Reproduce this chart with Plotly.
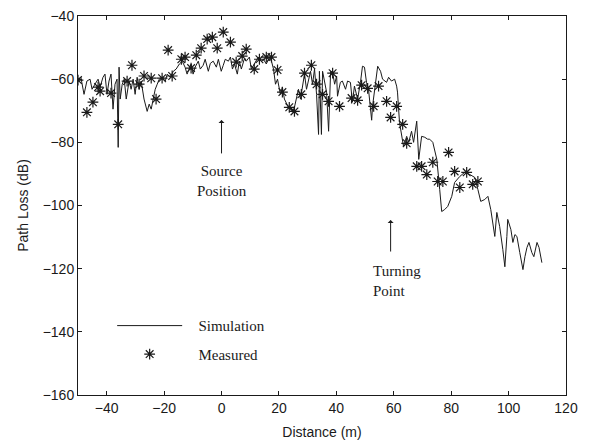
import plotly.graph_objects as go

# Simulation (distance m, path loss dB)
sim_dist = [-50, -49.0, -47.9, -46.9, -45.8, -45.1, -44.1, -43.0, -42.3, -41.3, -40.6, -39.9, -39.2, -38.5,
            -37.8, -37.1, -36.4, -36.0, -35.7, -35.3, -34.6, -33.9, -33.2, -32.2, -31.5, -30.8, -30.1, -29.4,
            -28.7, -28.0, -27.0, -25.9, -25.2, -24.5, -23.8, -23.1, -22.4, -21.7, -20.7, -19.6, -18.9, -17.9,
            -16.8, -15.8, -14.7, -13.7, -12.7, -12.0, -11.3, -10.6, -9.9, -9.2, -8.1, -7.4, -6.4, -5.7, -4.6,
            -3.9, -2.9, -1.8, -1.1, -0.1, 0.6, 1.3, 2.4, 3.1, 3.8, 4.5, 5.5, 6.2, 6.9, 7.9, 8.6, 9.7, 10.4,
            11.1, 12.1, 12.8, 13.9, 14.6, 15.6, 16.7, 17.4, 18.1, 18.8, 19.5, 20.5, 21.2, 21.9, 22.6, 23.3,
            24.0, 24.7, 25.4, 26.1, 26.8, 27.5, 28.2, 28.9, 29.6, 30.3, 31.0, 31.7, 32.4, 33.1, 33.8, 34.1,
            34.8, 35.2, 35.9, 36.6, 37.3, 38.0, 38.7, 39.4, 40.1, 40.4, 41.4, 42.1, 43.2, 43.9, 44.9, 45.6,
            46.3, 47.4, 48.4, 49.1, 49.8, 50.5, 51.2, 52.3, 52.6, 53.7, 54.4, 55.4, 56.1, 57.5, 58.2, 59.2,
            60.3, 61.0, 61.3, 62.0, 62.7, 63.4, 64.5, 65.2, 66.2, 66.9, 68.0, 68.7, 69.7, 70.8, 71.8, 72.5,
            73.6, 75.0, 76.0, 76.7, 77.7, 78.8, 80.2, 81.2, 83.0, 84.7, 86.5, 88.2, 89.3, 90.3, 91.7, 92.8,
            93.8, 94.5, 95.2, 95.9, 96.9, 98.0, 98.7, 99.4, 99.7, 100.8, 101.5, 102.2, 102.9, 103.9, 105.0,
            105.7, 106.4, 107.1, 108.1, 108.8, 109.9, 110.6, 111.6]
sim_loss = [-60.0, -59.4, -64.8, -60.6, -60.0, -63.2, -61.6, -60.0, -62.5, -59.4, -58.4, -64.8, -60.6, -58.4,
            -69.5, -61.6, -60.0, -81.6, -56.2, -66.3, -61.6, -60.0, -66.3, -60.6, -63.2, -60.0, -64.8, -59.4,
            -63.2, -60.6, -66.3, -70.2, -67.9, -69.5, -66.3, -63.2, -61.6, -60.0, -59.4, -60.6, -58.4, -59.4,
            -57.5, -56.8, -55.2, -54.3, -56.2, -58.4, -56.8, -55.2, -58.4, -56.2, -54.3, -56.8, -55.6, -53.7, -57.5,
            -55.0, -54.3, -56.2, -53.7, -57.5, -55.6, -53.7, -54.3, -53.0, -56.8, -55.2, -58.4, -54.3, -56.8, -53.7, -54.3, -53.0, -56.8,
            -55.6, -53.7, -53.0, -54.3, -53.7, -55.2, -53.0, -54.3, -56.8, -61.6, -60.0, -64.8, -62.5, -66.3, -67.9, -68.9,
            -69.5, -70.5, -68.9, -66.3, -63.2, -66.3, -62.5, -58.4, -63.2, -60.0, -57.5, -61.6, -56.8, -64.8, -77.5, -57.5,
            -77.5, -57.5, -60.6, -64.1, -76.5, -57.5, -57.8, -61.6, -59.0, -65.4, -61.0, -60.6, -63.2, -60.6, -61.0, -67.3,
            -62.2, -66.3, -61.0, -55.9, -56.2, -61.0, -63.2, -73.0, -68.6, -60.3, -55.9, -57.5, -60.0, -61.0, -59.4, -60.6,
            -60.0, -62.2, -64.1, -73.7, -78.1, -81.3, -78.1, -80.0, -76.5, -80.0, -73.3, -85.4, -78.1, -78.4, -79.0, -79.0,
            -80.0, -85.4, -94.9, -101.9, -101.3, -100.3, -97.1, -92.7, -90.8, -89.5, -90.2, -91.1, -94.9, -98.7, -98.1, -97.1,
            -101.3, -105.4, -109.8, -102.2, -106.7, -114.0, -119.4, -109.8, -104.4, -107.6, -111.7, -109.2, -109.8, -114.9, -120.3,
            -116.2, -113.3, -111.7, -114.9, -116.2, -111.7, -113.3, -118.1]

# Measured (distance m, path loss dB)
meas_dist = [-50.0, -46.9, -44.8, -43.0, -42.3, -38.5, -36.0, -31.2, -32.9, -28.7, -27.0, -24.5, -22.8, -20.7,
             -18.6, -17.2, -14.0, -12.7, -10.6, -8.8, -7.1, -5.0, -3.2, -1.5, 0.6, 3.1, 5.1, 7.2, 8.6, 11.4,
             13.2, 15.6, 17.4, 19.5, 21.2, 23.6, 25.4, 27.8, 28.9, 31.3, 33.1, 35.2, 37.3, 38.7, 41.1, 45.3,
             47.4, 48.8, 50.9, 53.0, 54.7, 57.5, 58.9, 61.0, 63.1, 64.5, 68.0, 69.7, 71.5, 73.6, 75.3, 77.1,
             79.1, 81.2, 83.0, 85.4, 87.5, 89.3]
meas_loss = [-60.3, -70.5, -67.3, -62.5, -63.8, -64.4, -74.3, -55.6, -60.6, -61.6, -59.0, -59.7, -66.3, -59.7,
             -50.8, -59.0, -53.7, -53.0, -56.5, -52.4, -50.2, -47.3, -46.7, -50.2, -45.1, -48.3, -54.6, -52.7,
             -50.5, -56.8, -53.7, -53.0, -53.0, -57.1, -64.1, -68.9, -70.2, -64.8, -58.1, -55.6, -61.6, -64.8,
             -67.0, -58.1, -68.6, -66.0, -66.7, -61.9, -62.9, -68.6, -62.2, -67.0, -72.1, -68.6, -74.3, -80.3,
             -87.6, -87.6, -90.2, -86.3, -92.4, -92.4, -83.2, -89.2, -94.3, -89.5, -93.3, -92.4]

x_ticks = [-40, -20, 0, 20, 40, 60, 80, 100, 120]
y_ticks = [-160, -140, -120, -100, -80, -60, -40]

SANS = "Liberation Sans, Arial, sans-serif"
SERIF = "Liberation Serif, Times New Roman, serif"
INK = "#1a1a1a"
NB = "\u00a0\u00a0\u00a0"

fig = go.Figure()
fig.add_trace(go.Scatter(
    x=sim_dist, y=sim_loss, mode="lines", name=NB + "Simulation",
    line=dict(color=INK, width=1), legendgroup="a"))
fig.add_trace(go.Scatter(
    x=meas_dist, y=meas_loss, mode="markers", name=NB + "Measured",
    marker=dict(symbol="asterisk-open", size=9, color=INK, line=dict(color=INK, width=1.2)),
    legendgroup="b"))

axis_common = dict(
    showgrid=False, zeroline=False, showline=True, linecolor=INK, linewidth=1,
    mirror="ticks", ticks="inside", ticklen=4, tickcolor=INK, ticklabeloverflow="allow",
    tickfont=dict(family=SANS, size=14, color=INK), automargin=False)

fig.update_xaxes(range=[-50, 120], tickvals=x_ticks,
                 title=dict(text="Distance (m)", font=dict(family=SANS, size=14, color=INK), standoff=12),
                 **axis_common)
fig.update_yaxes(range=[-160, -40], tickvals=y_ticks, ticksuffix="\u00a0",
                 title=dict(text="Path Loss (dB)", font=dict(family=SANS, size=14, color=INK), standoff=10),
                 **axis_common)

fig.add_annotation(x=0, y=-72.9, ax=0, ay=35, showarrow=True, arrowhead=1, arrowsize=1,
                   arrowwidth=1, arrowcolor=INK, text="")
fig.add_annotation(x=0, y=-92.2, text="Source<br>Position", showarrow=False,
                   font=dict(family=SERIF, size=15, color=INK))
fig.add_annotation(x=58.9, y=-104.6, ax=0, ay=33, showarrow=True, arrowhead=1, arrowsize=1,
                   arrowwidth=1, arrowcolor=INK, text="")
fig.add_annotation(x=51.9, y=-123.9, text="Turning<br>Point", showarrow=False, xanchor="left",
                   align="left", font=dict(family=SERIF, size=15, color=INK))

fig.update_layout(
    width=587, height=436,
    margin=dict(l=70, r=29, t=8, b=49),
    paper_bgcolor="white", plot_bgcolor="white",
    showlegend=True,
    legend=dict(x=0.07, y=0.226, xanchor="left", yanchor="top", bgcolor="rgba(0,0,0,0)",
                font=dict(family=SERIF, size=15, color=INK), traceorder="grouped",
                tracegroupgap=6, itemwidth=65),
)

fig.write_html("out.html")
